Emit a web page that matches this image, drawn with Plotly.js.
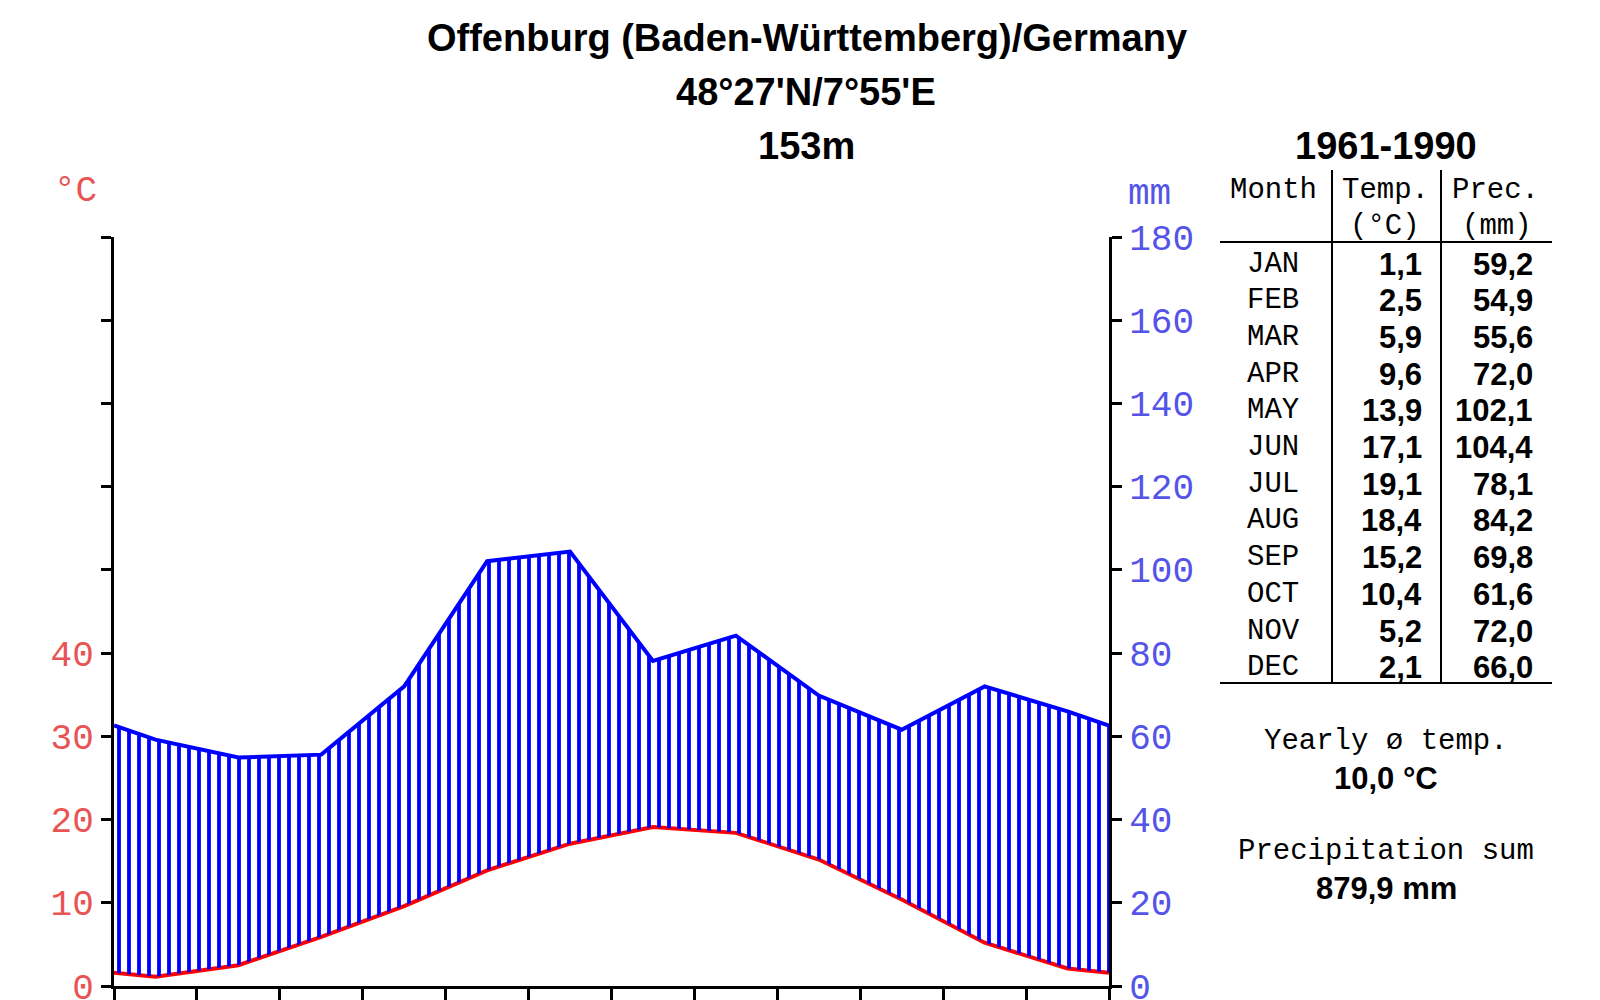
<!DOCTYPE html>
<html>
<head>
<meta charset="utf-8">
<script src="https://cdn.plot.ly/plotly-3.0.1.min.js"></script>
<style>
  html, body { margin: 0; padding: 0; background: #fff; }
  #chart { width: 1600px; height: 1000px; }
</style>
</head>
<body>
<div id="chart"></div>
<script>
// climate normals 1961-1990, Offenburg
const months = ['JAN', 'FEB', 'MAR', 'APR', 'MAY', 'JUN', 'JUL', 'AUG', 'SEP', 'OCT', 'NOV', 'DEC']
const temp = [1.1, 2.5, 5.9, 9.6, 13.9, 17.1, 19.1, 18.4, 15.2, 10.4, 5.2, 2.1]
const prec = [59.2, 54.9, 55.6, 72.0, 102.1, 104.4, 78.1, 84.2, 69.8, 61.6, 72.0, 66.0]
// values where the curves meet the two y axes
const edgeTemp = [1.6, 1.6]
const edgePrec = [62.6, 62.6]

const tempTicks = [0, 10, 20, 30, 40, 50, 60, 70, 80, 90]
const tempTickText = ['0', '10', '20', '30', '40', '', '', '', '', '']
const precTicks = [0, 20, 40, 60, 80, 100, 120, 140, 160, 180]

// plot area in pixels
const L = 114, R = 1109, T = 237, B = 986
const px = x => (x - L) / (R - L)
const py = y => (B - y) / (B - T)

const fmt = v => v.toFixed(1).replace('.', ',')

// x: month centres, plus both edges of the year
const xs = [0].concat(months.map((m, i) => i + 0.5), [12])
const tLine = [edgeTemp[0]].concat(temp, [edgeTemp[1]])
const pLine = [edgePrec[0]].concat(prec, [edgePrec[1]])

const traces = [
	{	// lower bound of the hatching: temperature on the mm scale (10 °C = 20 mm)
		x: xs, y: tLine.map(t => t * 2), yaxis: 'y2',
		mode: 'lines', line: { width: 0, color: 'rgba(0,0,0,0)' },
		hoverinfo: 'skip'
	},
	{
		x: xs, y: pLine, yaxis: 'y2',
		mode: 'lines', line: { color: '#0000ff', width: 4 },
		fill: 'tonexty', fillcolor: 'rgba(255,255,255,0)',
		fillpattern: { shape: '|', fgcolor: '#0000ff', bgcolor: 'rgba(255,255,255,0)', size: 10, solidity: 0.38 }
	},
	{
		x: xs, y: tLine, yaxis: 'y',
		mode: 'lines', line: { color: '#ff0000', width: 4 }
	}
]

const mono = 'Liberation Mono, Courier New, monospace'
const sans = 'Liberation Sans, Arial, sans-serif'
const red = 'rgb(232,84,84)'
const blue = 'rgb(84,84,232)'

const ann = []
function txt(x, y, text, opts) {
	ann.push(Object.assign({
		xref: 'paper', yref: 'paper', x: px(x), y: py(y), text: text,
		showarrow: false, xanchor: 'center', yanchor: 'middle',
		font: { family: sans, size: 30, color: '#000' }
	}, opts || {}))
}

// header titles
const titleFont = { family: sans, size: 38, color: '#000' }
txt(807, 38, '<b>Offenburg (Baden-Württemberg)/Germany</b>', { font: titleFont })
txt(806, 92, "<b>48°27'N/7°55'E</b>", { font: titleFont })
txt(806, 146, '<b>153m</b>', { font: titleFont })
txt(1386, 146, '<b>1961-1990</b>', { font: titleFont })

// axis units
txt(75, 192, '°C', { font: { family: mono, size: 36, color: red } })
txt(1149, 194, 'mm', { font: { family: mono, size: 36, color: blue } })

// table
const monoFont = { family: mono, size: 29, color: '#000' }
const boldFont = { family: sans, size: 31, color: '#000' }
txt(1273, 191, 'Month', { font: monoFont })
txt(1385, 191, 'Temp.', { font: monoFont })
txt(1385, 226, '(°C)', { font: monoFont })
txt(1495, 191, 'Prec.', { font: monoFont })
txt(1497, 226, '(mm)', { font: monoFont })
months.forEach((m, i) => {
	const y = 264 + i * 36.7
	txt(1273, y, m, { font: monoFont })
	txt(1424, y, '<b>' + fmt(temp[i]) + '</b>', { xanchor: 'right', font: boldFont })
	txt(1535, y, '<b>' + fmt(prec[i]) + '</b>', { xanchor: 'right', font: boldFont })
})

const yearlyTemp = temp.reduce((a, b) => a + b, 0) / temp.length
const precSum = prec.reduce((a, b) => a + b, 0)
txt(1386, 741, 'Yearly ø temp.', { font: monoFont })
txt(1386, 778, '<b>' + fmt(yearlyTemp) + ' °C</b>', { font: boldFont })
txt(1386, 851, 'Precipitation sum', { font: monoFont })
txt(1386, 888, '<b>' + fmt(precSum) + ' mm</b>', { font: boldFont })

const shp = []
function seg(x0, y0, x1, y1, w) {
	shp.push({ type: 'line', xref: 'paper', yref: 'paper', x0: px(x0), y0: py(y0), x1: px(x1), y1: py(y1), line: { color: '#000', width: w || 2 } })
}
seg(1220, 242, 1552, 242, 2)
seg(1220, 683, 1552, 683, 2)
seg(1332, 170, 1332, 683, 2)
seg(1441, 170, 1441, 683, 2)

const layout = {
	width: 1600, height: 1000,
	margin: { l: L, r: 1600 - R, t: T, b: 1000 - B, pad: 0 },
	paper_bgcolor: '#fff', plot_bgcolor: '#fff',
	showlegend: false,
	xaxis: {
		range: [0, 12], tickvals: [0, 1, 2, 3, 4, 5, 6, 7, 8, 9, 10, 11, 12],
		showticklabels: false, ticks: 'outside', ticklen: 16, tickwidth: 3, tickcolor: '#000',
		showline: true, linewidth: 3, linecolor: '#000', showgrid: false, zeroline: false
	},
	yaxis: {
		range: [0, 90], tickvals: tempTicks, ticktext: tempTickText,
		ticks: 'outside', ticklen: 10, tickwidth: 3, tickcolor: '#000',
		tickfont: { family: mono, size: 36, color: red }, ticklabeloverflow: 'allow',
		showline: true, linewidth: 3, linecolor: '#000', showgrid: false, zeroline: false
	},
	yaxis2: {
		range: [0, 180], tickvals: precTicks, overlaying: 'y', side: 'right',
		ticks: 'outside', ticklen: 10, tickwidth: 3, tickcolor: '#000',
		tickfont: { family: mono, size: 36, color: blue }, ticklabeloverflow: 'allow',
		showline: true, linewidth: 3, linecolor: '#000', showgrid: false, zeroline: false
	},
	annotations: ann,
	shapes: shp
}

Plotly.newPlot('chart', traces, layout, { displayModeBar: false, staticPlot: true })
</script>
</body>
</html>
